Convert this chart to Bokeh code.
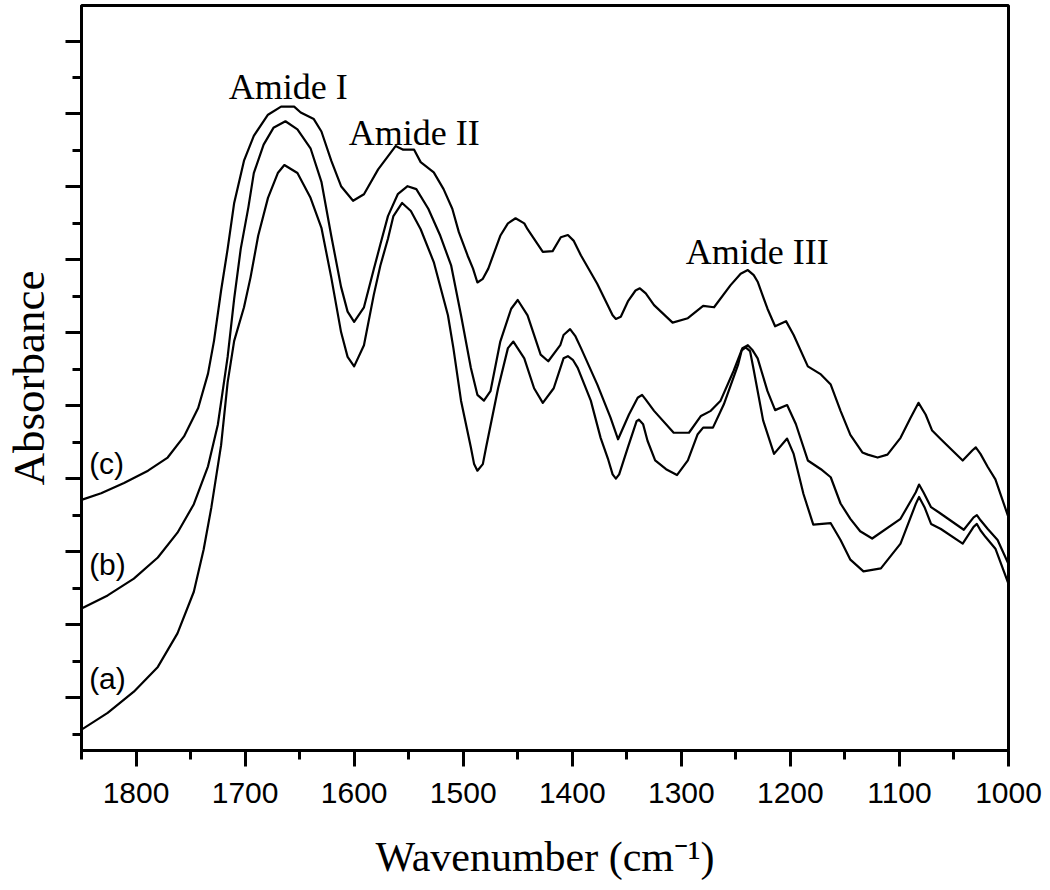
from bokeh.plotting import figure
from bokeh.models import Range1d, FixedTicker, Label
from bokeh.embed import file_html
from bokeh.resources import INLINE

# ---- data (wavenumber cm^-1, absorbance a.u.) ----
wn_c = [1850, 1832, 1811, 1789, 1771, 1756, 1743, 1734,
        1728.5, 1722, 1716, 1710, 1701, 1692, 1679, 1667,
        1655, 1649, 1637, 1630, 1621, 1612, 1601, 1591,
        1578, 1562, 1555, 1545, 1539, 1527, 1518, 1510,
        1504, 1496, 1491, 1487, 1482, 1477, 1466, 1459,
        1452, 1444, 1441, 1427, 1418, 1410.5, 1404, 1398.6,
        1392, 1377, 1363, 1360, 1355.5, 1349, 1342, 1338,
        1332.6, 1325, 1308, 1294, 1280, 1270, 1255, 1245.6,
        1239, 1233.6, 1230, 1221, 1214, 1204, 1197, 1184,
        1172, 1163, 1154, 1145, 1134, 1129, 1120, 1111,
        1099, 1090, 1082.5, 1076, 1070, 1062, 1042, 1033,
        1030, 1025.7, 1019, 1012, 1000]
abs_c = [0.271, 0.280, 0.294, 0.311, 0.329, 0.358, 0.397, 0.444,
         0.489, 0.558, 0.615, 0.678, 0.736, 0.770, 0.799, 0.810,
         0.810, 0.802, 0.793, 0.776, 0.736, 0.701, 0.681, 0.690,
         0.724, 0.756, 0.751, 0.751, 0.734, 0.720, 0.697, 0.670,
         0.638, 0.606, 0.588, 0.569, 0.574, 0.588, 0.633, 0.650,
         0.657, 0.650, 0.642, 0.611, 0.612, 0.631, 0.634, 0.626,
         0.606, 0.567, 0.524, 0.519, 0.522, 0.543, 0.558, 0.561,
         0.554, 0.538, 0.514, 0.520, 0.537, 0.535, 0.565, 0.581,
         0.586, 0.579, 0.570, 0.533, 0.509, 0.516, 0.497, 0.454,
         0.443, 0.429, 0.393, 0.360, 0.336, 0.333, 0.329, 0.333,
         0.356, 0.383, 0.404, 0.388, 0.366, 0.354, 0.325, 0.339,
         0.343, 0.334, 0.316, 0.299, 0.247]

wn_b = [1850, 1826, 1802, 1780, 1762, 1747, 1734, 1725,
        1716, 1710, 1704, 1697, 1692, 1683, 1674, 1663,
        1652, 1640, 1630, 1621, 1612, 1606, 1600, 1591,
        1582, 1576, 1569, 1560, 1551, 1543, 1532, 1521,
        1511, 1502, 1493, 1487, 1481, 1475, 1466, 1456,
        1450, 1441, 1429, 1422, 1411, 1408, 1402, 1397,
        1392, 1377, 1365, 1358, 1348, 1340, 1336, 1332.6,
        1325, 1307, 1293, 1282, 1273, 1264, 1252, 1244,
        1239, 1234.6, 1230, 1221, 1214, 1203, 1195, 1184,
        1172, 1163, 1154, 1145, 1136, 1125, 1099, 1085,
        1082, 1078, 1071, 1064, 1041, 1032, 1029, 1025.6,
        1019, 1010, 1000]
abs_b = [0.122, 0.140, 0.163, 0.192, 0.226, 0.265, 0.317, 0.374,
         0.467, 0.547, 0.615, 0.672, 0.719, 0.758, 0.781, 0.790,
         0.779, 0.753, 0.707, 0.633, 0.563, 0.529, 0.515, 0.535,
         0.587, 0.621, 0.660, 0.690, 0.701, 0.697, 0.670, 0.633,
         0.592, 0.524, 0.452, 0.415, 0.407, 0.420, 0.488, 0.533,
         0.545, 0.524, 0.470, 0.461, 0.483, 0.497, 0.505, 0.495,
         0.479, 0.429, 0.384, 0.354, 0.388, 0.411, 0.415, 0.4085,
         0.393, 0.363, 0.363, 0.386, 0.393, 0.407, 0.448, 0.479,
         0.483, 0.476, 0.465, 0.420, 0.394, 0.401, 0.375, 0.325,
         0.313, 0.302, 0.266, 0.245, 0.228, 0.218, 0.245, 0.2815,
         0.292, 0.2815, 0.261, 0.254, 0.230, 0.247, 0.250, 0.243,
         0.231, 0.216, 0.183]

wn_a = [1850, 1826, 1802, 1780, 1762, 1747, 1738, 1731,
        1722, 1716, 1710, 1701, 1695, 1688, 1679, 1670,
        1664, 1652, 1640, 1630, 1621, 1612, 1606, 1600,
        1591, 1582, 1576, 1569, 1564, 1556, 1548, 1539,
        1527, 1514, 1509, 1502, 1493, 1490, 1487, 1482,
        1479, 1468, 1459, 1454, 1444, 1435, 1427, 1417,
        1408, 1404, 1399.5, 1395, 1383, 1374, 1367, 1363,
        1360, 1357, 1349, 1341, 1339, 1335, 1331, 1324,
        1314, 1304, 1294, 1285, 1280, 1271, 1261, 1248,
        1244.6, 1241, 1237, 1234, 1225, 1215, 1203, 1197,
        1188, 1179, 1163, 1154, 1145, 1133, 1117, 1099,
        1085, 1082, 1077, 1071, 1062, 1042, 1032, 1029,
        1025.6, 1021, 1012, 1000]
abs_a = [-0.044, -0.021, 0.008, 0.042, 0.088, 0.145, 0.203, 0.260,
         0.346, 0.432, 0.489, 0.535, 0.576, 0.633, 0.685, 0.719,
         0.730, 0.719, 0.685, 0.644, 0.576, 0.501, 0.467, 0.454,
         0.483, 0.552, 0.592, 0.629, 0.660, 0.678, 0.667, 0.642,
         0.597, 0.524, 0.479, 0.407, 0.343, 0.320, 0.311, 0.320,
         0.343, 0.424, 0.479, 0.488, 0.465, 0.424, 0.404, 0.424,
         0.465, 0.468, 0.463, 0.452, 0.407, 0.356, 0.326, 0.306,
         0.300, 0.306, 0.343, 0.379, 0.381, 0.3745, 0.352, 0.325,
         0.313, 0.305, 0.325, 0.361, 0.370, 0.370, 0.402, 0.456,
         0.476, 0.480, 0.475, 0.452, 0.380, 0.334, 0.355, 0.334,
         0.279, 0.237, 0.239, 0.216, 0.189, 0.173, 0.177, 0.211,
         0.2655, 0.275, 0.261, 0.238, 0.231, 0.211, 0.234, 0.238,
         0.229, 0.220, 0.204, 0.156]

x_major = [1000, 1100, 1200, 1300, 1400, 1500, 1600, 1700, 1800]
x_minor = [1050, 1150, 1250, 1350, 1450, 1550, 1650, 1750, 1850]
y_major = [0.0, 0.1, 0.2, 0.3, 0.4, 0.5, 0.6, 0.7, 0.8, 0.9]
y_minor = [-0.05, 0.05, 0.15, 0.25, 0.35, 0.45, 0.55, 0.65, 0.75, 0.85, 0.95]

curve_labels = ["(a)", "(b)", "(c)"]
curve_label_x = [1843, 1843, 1843]
curve_label_y = [0.026, 0.183, 0.321]
band_labels = ["Amide I", "Amide II", "Amide III"]
band_label_x = [1715, 1605, 1296]
band_label_y = [0.837, 0.774, 0.611]

SANS = "Liberation Sans"
SERIF = "Liberation Serif"

p = figure(width=1042, height=882, output_backend="svg", toolbar_location=None,
           x_range=Range1d(1850, 1000), y_range=Range1d(-0.0726, 0.9487),
           min_border_left=80, min_border_right=34, min_border_top=5, min_border_bottom=127)
p.background_fill_color = "white"
p.border_fill_color = "white"
p.grid.visible = False
p.outline_line_color = "black"
p.outline_line_width = 3

for ax in (p.xaxis[0], p.yaxis[0]):
    ax.axis_line_width = 3
    ax.axis_line_color = "black"
    ax.major_tick_line_width = 3
    ax.minor_tick_line_width = 3
    ax.major_tick_in = 0
    ax.minor_tick_in = 0
    ax.major_tick_out = 16
    ax.minor_tick_out = 9
    ax.axis_label_text_color = "black"

p.xaxis.ticker = FixedTicker(ticks=x_major, minor_ticks=x_minor)
p.yaxis.ticker = FixedTicker(ticks=y_major, minor_ticks=y_minor)

p.xaxis.major_label_text_font = SANS
p.xaxis.major_label_text_font_size = "30px"
p.xaxis.major_label_text_color = "black"
p.xaxis.major_label_standoff = 16
p.xaxis.axis_label = "Wavenumber (cm\u207b\u00b9)"
p.xaxis.axis_label_text_font = SERIF
p.xaxis.axis_label_text_font_size = "42px"
p.xaxis.axis_label_text_font_style = "normal"
p.xaxis.axis_label_standoff = 28

p.yaxis.major_label_overrides = {v: "" for v in y_major}
p.yaxis.major_label_standoff = 0
p.yaxis.axis_label = "Absorbance"
p.yaxis.axis_label_text_font = SERIF
p.yaxis.axis_label_text_font_size = "45px"
p.yaxis.axis_label_text_font_style = "normal"
p.yaxis.axis_label_standoff = 12

for wn, ab in ((wn_a, abs_a), (wn_b, abs_b), (wn_c, abs_c)):
    p.line(wn, ab, line_color="black", line_width=2.2, line_join="round")

for t, x, y in zip(curve_labels, curve_label_x, curve_label_y):
    p.add_layout(Label(x=x, y=y, text=t, text_font=SANS, text_font_size="30px",
                       text_align="left", text_baseline="middle", text_color="black"))

for t, x, y in zip(band_labels, band_label_x, band_label_y):
    p.add_layout(Label(x=x, y=y, text=t, text_font=SERIF, text_font_size="36px",
                       text_align="left", text_baseline="alphabetic", text_color="black"))

open("out.html", "w").write(file_html(p, INLINE))
